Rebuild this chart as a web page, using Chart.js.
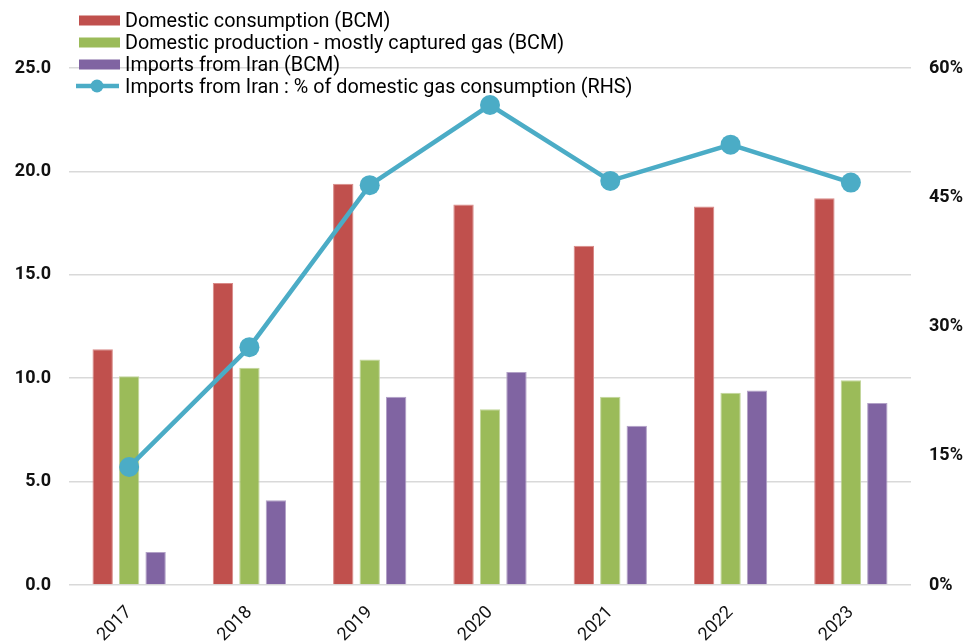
<!DOCTYPE html>
<html>
<head>
<meta charset="utf-8">
<script src="https://cdn.jsdelivr.net/npm/chart.js@4.4.1/dist/chart.umd.min.js"></script>
<style>
    html, body { margin: 0; padding: 0; background: #fff; }
    #wrap { position: relative; width: 968px; height: 642px; }
    #legend { position: absolute; left: 76px; top: 9px; font-family: Roboto, sans-serif; font-size: 19.8px; color: #000; }
    #legend .row { display: flex; align-items: center; height: 22px; white-space: nowrap; }
    #legend .sw { width: 44px; height: 22px; margin-right: 5px; }
</style>
</head>
<body>
<div id="wrap">
    <canvas id="gasChart" width="968" height="642"></canvas>
    <div id="legend"></div>
</div>
<script>
const years = ['2017', '2018', '2019', '2020', '2021', '2022', '2023'];
const consumption = [11.4, 14.6, 19.4, 18.4, 16.4, 18.3, 18.7];
const production = [10.1, 10.5, 10.9, 8.5, 9.1, 9.3, 9.9];
const imports = [1.6, 4.1, 9.1, 10.3, 7.7, 9.4, 8.8];
const importShare = [13.7, 27.6, 46.4, 55.7, 46.9, 51.1, 46.7];
const leftTicks = [0, 5, 10, 15, 20, 25];
const rightTicks = [0, 15, 30, 45, 60];

const colors = {
    red: '#C0504D',
    green: '#9BBB59',
    purple: '#8064A2',
    blue: '#4BACC6',
    grid: '#d9d9d9',
    text: '#111'
};

function fixWidth(w) {
    return function (scale) { scale.width = w; };
}

const ctx = document.getElementById('gasChart');
const gasChart = new Chart(ctx, {
    type: 'bar',
    data: {
        labels: years,
        datasets: [{
            label: 'Domestic consumption (BCM)',
            data: consumption,
            backgroundColor: colors.red,
            borderColor: '#d98a88',
            borderWidth: 1,
            yAxisID: 'y',
            order: 1
        }, {
            label: 'Domestic production - mostly captured gas (BCM)',
            data: production,
            backgroundColor: colors.green,
            borderColor: '#c2d69b',
            borderWidth: 1,
            yAxisID: 'y',
            order: 1
        }, {
            label: 'Imports from Iran (BCM)',
            data: imports,
            backgroundColor: colors.purple,
            borderColor: '#b2a1c7',
            borderWidth: 1,
            yAxisID: 'y',
            order: 1
        }, {
            type: 'line',
            label: 'Imports from Iran : % of domestic gas consumption (RHS)',
            data: importShare,
            borderColor: colors.blue,
            backgroundColor: colors.blue,
            borderWidth: 4.5,
            pointRadius: 10,
            pointHoverRadius: 10,
            pointBorderWidth: 0,
            tension: 0,
            yAxisID: 'y1',
            order: 0
        }]
    },
    options: {
        responsive: false,
        animation: false,
        layout: { padding: { top: 68, left: 0, right: 0, bottom: 0 } },
        datasets: {
            bar: { categoryPercentage: 0.66, barPercentage: 0.77 }
        },
        scales: {
            x: {
                grid: { display: false, drawTicks: false },
                border: { display: false },
                ticks: {
                    color: colors.text,
                    font: { family: 'Roboto', size: 18 },
                    minRotation: 45,
                    maxRotation: 45,
                    padding: 17
                },
                afterFit: function (scale) { scale.height = 57; }
            },
            y: {
                position: 'left',
                min: 0,
                max: 25,
                afterBuildTicks: function (scale) {
                    scale.ticks = leftTicks.map(v => ({ value: v }));
                },
                grid: { color: colors.grid, lineWidth: 1.6, drawTicks: false },
                border: { display: false },
                ticks: {
                    color: colors.text,
                    font: { family: 'Roboto', size: 18, weight: 'bold' },
                    padding: 18,
                    callback: v => v.toFixed(1)
                },
                afterFit: fixWidth(69)
            },
            y1: {
                position: 'right',
                min: 0,
                max: 60,
                afterBuildTicks: function (scale) {
                    scale.ticks = rightTicks.map(v => ({ value: v }));
                },
                grid: { display: false, drawTicks: false },
                border: { display: false },
                ticks: {
                    color: colors.text,
                    font: { family: 'Roboto', size: 18, weight: 'bold' },
                    padding: 18,
                    callback: v => v + '%'
                },
                afterFit: fixWidth(57)
            }
        },
        plugins: {
            legend: { display: false },
            tooltip: { enabled: false }
        }
    }
});

// HTML legend overlapping the plot, built from the datasets
function buildLegend(chart) {
    const box = document.getElementById('legend');
    chart.data.datasets.forEach(ds => {
        const row = document.createElement('div');
        row.className = 'row';
        const sw = document.createElement('canvas');
        sw.className = 'sw';
        sw.width = 44;
        sw.height = 22;
        const c = sw.getContext('2d');
        if (ds.type === 'line') {
            c.strokeStyle = ds.borderColor;
            c.lineWidth = 4.5;
            c.beginPath();
            c.moveTo(0, 11);
            c.lineTo(43, 11);
            c.stroke();
            c.fillStyle = ds.borderColor;
            c.beginPath();
            c.arc(21, 11, 6.5, 0, Math.PI * 2);
            c.fill();
        } else {
            c.fillStyle = ds.backgroundColor;
            c.fillRect(3, 6.5, 41, 10);
        }
        const txt = document.createElement('span');
        txt.textContent = ds.label;
        row.appendChild(sw);
        row.appendChild(txt);
        box.appendChild(row);
    });
}
buildLegend(gasChart);
</script>
</body>
</html>
